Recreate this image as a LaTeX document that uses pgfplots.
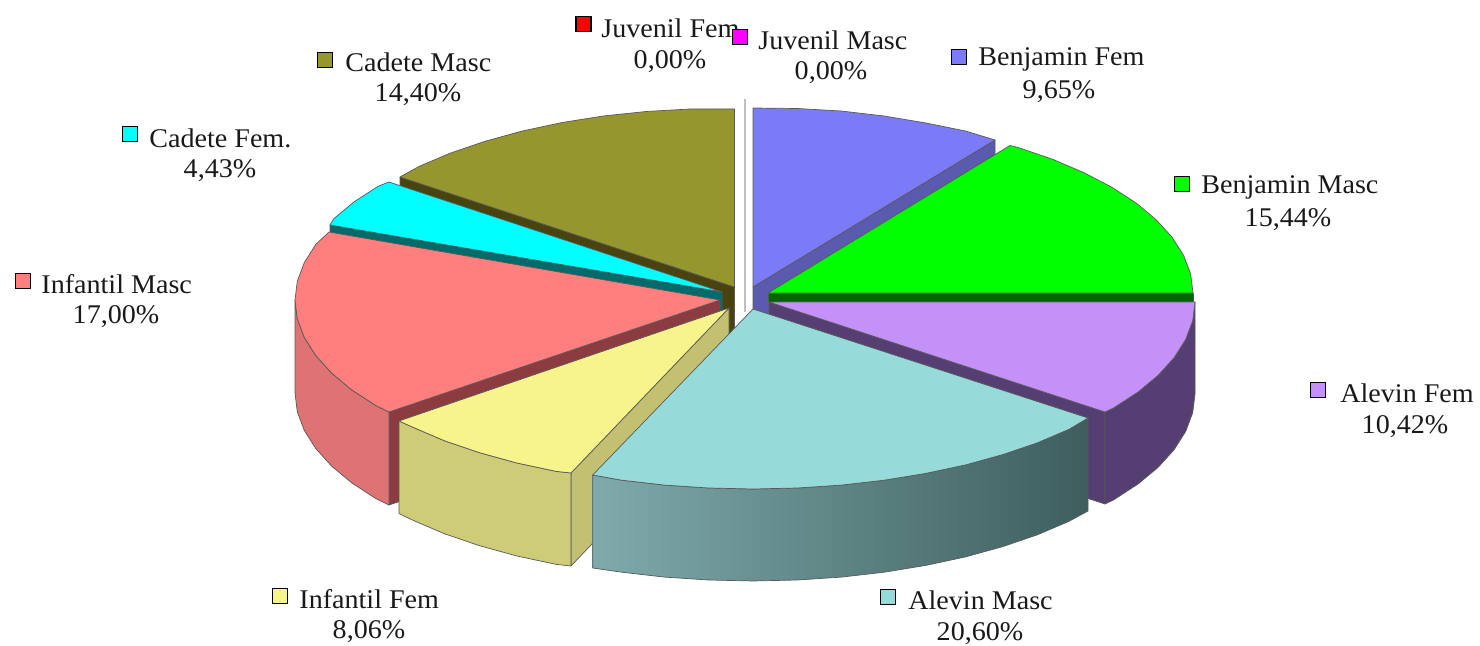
\documentclass[border=0pt]{standalone}
\usepackage{fontspec}
\setmainfont[FakeStretch=1.04]{Liberation Serif}
\usepackage{pgfplots}
\pgfplotsset{compat=1.18}
\definecolor{cJuvF}{HTML}{FF0000}
\definecolor{cJuvM}{HTML}{FF00FF}
\definecolor{cBenjF}{HTML}{7B7BF7}
\definecolor{cBenjFw}{HTML}{5A5AAE}
\definecolor{cBenjM}{HTML}{00FF00}
\definecolor{cBenjMw}{HTML}{006400}
\definecolor{cAlevF}{HTML}{C491F8}
\definecolor{cAlevFw}{HTML}{553E72}
\definecolor{cAlevM}{HTML}{97DADA}
\definecolor{cAlevMa}{HTML}{7FAAAB}
\definecolor{cAlevMb}{HTML}{527576}
\definecolor{cAlevMc}{HTML}{3E5E5E}
\definecolor{cInfF}{HTML}{F7F48B}
\definecolor{cInfFw}{HTML}{CFCC78}
\definecolor{cInfFs}{HTML}{C3C072}
\definecolor{cInfM}{HTML}{FF7F7F}
\definecolor{cInfMw}{HTML}{DF7272}
\definecolor{cInfMs}{HTML}{8C3C40}
\definecolor{cCadF}{HTML}{00FFFF}
\definecolor{cCadFw}{HTML}{006B6B}
\definecolor{cCadM}{HTML}{96962E}
\definecolor{cCadMw}{HTML}{48430F}
\tikzset{
  slice/.style={line width=0.35pt, draw=black!65, line join=round},
  lab/.style={anchor=west, inner sep=0pt, yshift=-1pt, font=\fontsize{13.5}{15}\selectfont, text=black!90},
  pct/.style={anchor=center, inner sep=0pt, yshift=-1.2pt, font=\fontsize{13.5}{15}\selectfont, text=black!90},
  key/.style={only marks, mark=square*, mark size=3.8pt, mark options={draw=black, line width=0.8pt, fill=#1}},
}
\begin{document}
\begin{tikzpicture}
\begin{axis}[
  scale only axis, width=740pt, height=323pt,
  xmin=0, xmax=1480, ymin=0, ymax=646, y dir=reverse,
  hide axis, clip=false,
]
% hide axis drops the axis box from the page size, so keep it
\path (axis cs:0,0) rectangle (axis cs:1480,646);
% Benjamin Fem
\addplot[slice, fill=cBenjFw] coordinates {(753,287)(995,140)(995,233)(753,380)} --cycle;
\addplot[slice, fill=cBenjF] coordinates {(753,287)(753,108)(797,108.5)(841,111)(884,116)(926,123)(965.5,131)(995,140)} --cycle;
% Cadete Masc
\addplot[slice, fill=cCadMw] coordinates {(734.5,287)(400,177)(400,270)(734.5,380)} --cycle;
\addplot[slice, fill=cCadM] coordinates {(734.5,287)(734.5,109)(690.1,109)(646.1,111.5)(603.2,116)(561.7,122.6)(522,131.1)(484.7,141.4)(450.1,153.2)(418.7,166.6)(400,177)} --cycle;
% Juvenil: the two empty slices
\addplot[line width=1.1pt, color=black!25] coordinates {(745.3,99)(745.3,312)};
% Cadete Fem
\addplot[slice, fill=cCadFw] coordinates {(722,292)(330,225)(330,318)(722,385)} --cycle;
\addplot[slice, fill=cCadF] coordinates {(722,292)(389,182)(378.2,186.2)(353.9,202)(333.7,218.8)(330,225)} --cycle;
% Benjamin Masc
\addplot[slice, fill=cBenjMw] coordinates {(768,293)(1193,293)(1193,302)(768,302)} --cycle;
\addplot[slice, fill=cBenjM] coordinates {(768,293)(1010,145.5)(1017.8,147.4)(1052.4,159.2)(1083.8,172.6)(1111.8,187.2)(1136.1,203)(1156.3,219.8)(1172.2,237.4)(1183.7,255.6)(1190.7,274.2)(1193,293)} --cycle;
% Alevin Fem
\addplot[slice, fill=cAlevFw] coordinates {(769,302)(1105,412)(1105,504)(769,395)} --cycle;
\addplot[slice, fill=cAlevFw] coordinates {(1195,302)(1192.7,320.8)(1185.7,339.4)(1174.2,357.6)(1158.3,375.2)(1138.1,392)(1113.8,407.8)(1105,412)(1105,504)(1113.8,499.8)(1138.1,484)(1158.3,467.2)(1174.2,449.6)(1185.7,431.4)(1192.7,412.8)(1195,394)} --cycle;
\addplot[slice, fill=cAlevF] coordinates {(769,302)(1195,302)(1192.7,320.8)(1185.7,339.4)(1174.2,357.6)(1158.3,375.2)(1138.1,392)(1113.8,407.8)(1105,412)} --cycle;
% Infantil Masc
\addplot[slice, fill=cInfMs] coordinates {(720,300)(389,412)(389,505)(720,393)} --cycle;
\addplot[slice, fill=cInfMw] coordinates {(295,300)(297.3,318.8)(304.3,337.4)(315.8,355.6)(331.7,373.2)(351.9,390)(376.2,405.8)(389,412)(389,505)(376.2,498.8)(351.9,483)(331.7,466.2)(315.8,448.6)(304.3,430.4)(297.3,411.8)(295,393)} --cycle;
\addplot[slice, fill=cInfM] coordinates {(720,300)(329,232)(315.8,244.4)(304.3,262.6)(297.3,281.2)(295,300)(297.3,318.8)(304.3,337.4)(315.8,355.6)(331.7,373.2)(351.9,390)(376.2,405.8)(389,412)} --cycle;
% Infantil Fem
\addplot[slice, fill=cInfFs] coordinates {(729,308)(571,473)(571,566)(729,400)} --cycle;
\addplot[slice, fill=cInfFw] coordinates {(399,421)(413.2,427.4)(444.6,440.8)(479.2,452.6)(516.5,462.9)(556.2,471.4)(571,473)(571,566)(556.2,564.4)(516.5,555.9)(479.2,545.6)(444.6,533.8)(413.2,520.4)(399,513.5)} --cycle;
\addplot[slice, fill=cInfF] coordinates {(729,308)(399,421)(413.2,427.4)(444.6,440.8)(479.2,452.6)(516.5,462.9)(556.2,471.4)(571,473)} --cycle;
% Alevin Masc
\addplot[slice, left color=cAlevMa, middle color=cAlevMb, right color=cAlevMc] coordinates {(1088,418)(1068.8,429.4)(1037.4,442.8)(1002.8,454.6)(965.5,464.9)(925.8,473.4)(884.3,480.2)(841.4,485.1)(797.4,488)(753,489)(708.6,488)(664.6,485.1)(621.7,480.2)(592.7,475)(592.7,568)(621.7,572.2)(664.6,577.1)(708.6,580)(753,581)(797.4,580)(841.4,577.1)(884.3,572.2)(925.8,565.4)(965.5,556.9)(1002.8,546.6)(1037.4,534.8)(1068.8,521.4)(1088,511)} --cycle;
\addplot[slice, fill=cAlevM] coordinates {(753,309)(1088,418)(1068.8,429.4)(1037.4,442.8)(1002.8,454.6)(965.5,464.9)(925.8,473.4)(884.3,480.2)(841.4,485.1)(797.4,488)(753,489)(708.6,488)(664.6,485.1)(621.7,480.2)(592.7,475)} --cycle;
% label keys
\addplot[key=cJuvF] coordinates {(583.5,24)};
\addplot[key=cJuvM] coordinates {(740,37)};
\addplot[key=cBenjF] coordinates {(959,57)};
\addplot[key=cBenjM] coordinates {(1182,184)};
\addplot[key=cAlevF] coordinates {(1318,390)};
\addplot[key=cAlevM] coordinates {(888,597)};
\addplot[key=cInfF] coordinates {(280,596)};
\addplot[key=cInfM] coordinates {(23,281)};
\addplot[key=cCadF] coordinates {(130,134)};
\addplot[key=cCadM] coordinates {(325,60)};
% labels
\node[lab] at (axis cs:601,26) {Juvenil Fem};
\node[pct] at (axis cs:670,59) {0,00\%};
\node[lab] at (axis cs:758,38) {Juvenil Masc};
\node[pct] at (axis cs:831,70) {0,00\%};
\node[lab] at (axis cs:978,57) {Benjamin Fem};
\node[pct] at (axis cs:1059,89) {9,65\%};
\node[lab] at (axis cs:1201,185) {Benjamin Masc};
\node[pct] at (axis cs:1288,217) {15,44\%};
\node[lab] at (axis cs:1340,391) {Alevin Fem};
\node[pct] at (axis cs:1405,424) {10,42\%};
\node[lab] at (axis cs:908,598) {Alevin Masc};
\node[pct] at (axis cs:980,631) {20,60\%};
\node[lab] at (axis cs:299,597) {Infantil Fem};
\node[pct] at (axis cs:369,629) {8,06\%};
\node[lab] at (axis cs:41,282) {Infantil Masc};
\node[pct] at (axis cs:116,314) {17,00\%};
\node[lab] at (axis cs:149,136) {Cadete Fem.};
\node[pct] at (axis cs:220,168) {4,43\%};
\node[lab] at (axis cs:345,60) {Cadete Masc};
\node[pct] at (axis cs:418,92) {14,40\%};
\end{axis}
\end{tikzpicture}
\end{document}
